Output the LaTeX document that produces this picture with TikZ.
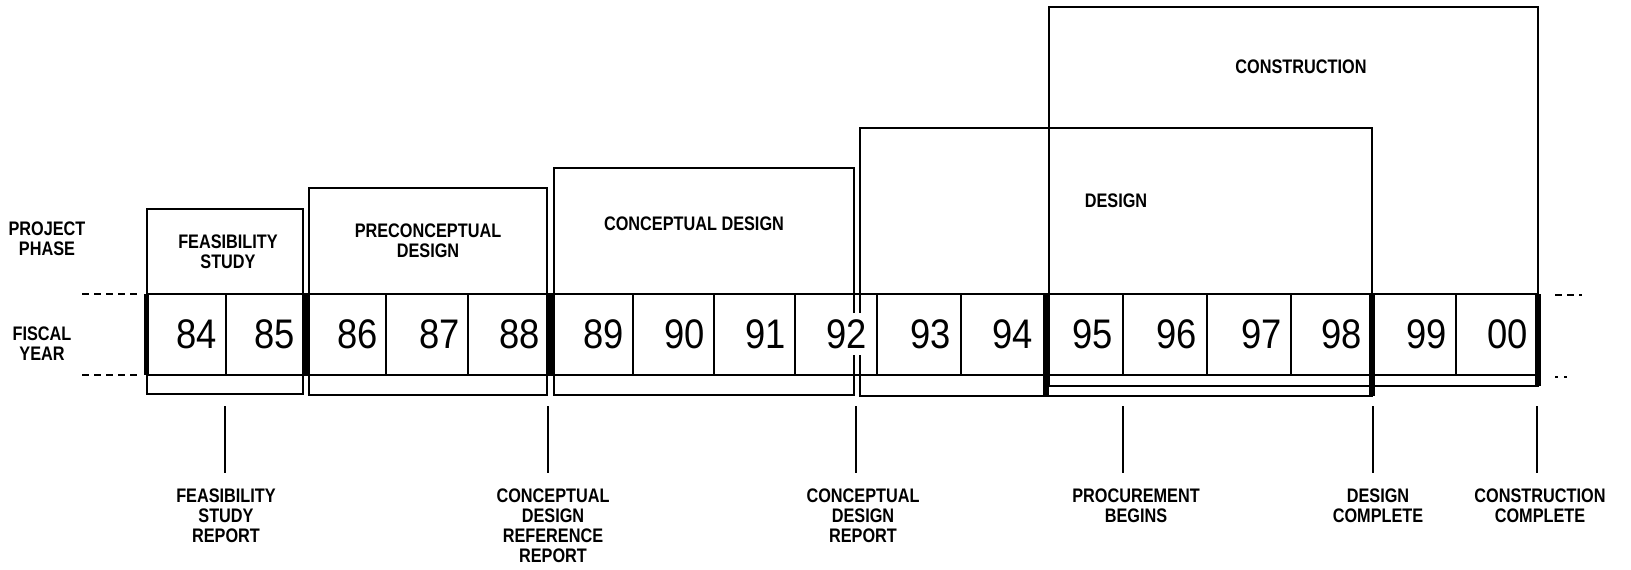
\documentclass[tikz,border=0pt]{standalone}
\usepackage{fontspec}
\setmainfont{Liberation Sans}
\newfontfamily\yearfont[FakeStretch=0.88]{Liberation Sans}
\newfontfamily\capfont[FakeStretch=0.83]{Liberation Sans}

\tikzset{every picture/.style={line width=0.75pt}}
\tikzset{
  phasebox/.style={line width=1.6pt},
  cellline/.style={line width=1.1pt},
  yearbar/.style={fill=black, draw=none},
  guideline/.style={line width=1.1pt, dash pattern=on 5pt off 4pt},
  milestone/.style={line width=1.6pt, shorten >=10.5pt},
  yearnum/.style={anchor=east, inner sep=0.75pt, font=\yearfont\fontsize{31}{31}\selectfont},
  caplabel/.style={align=center, inner sep=0.75pt, font=\capfont\bfseries\fontsize{14.7}{15}\selectfont},
}

\begin{document}
\begin{tikzpicture}[x=0.75pt,y=0.75pt,yscale=-1]
\useasboundingbox (0,0) rectangle (1631,570);

%Shape: Rectangle [feasibility study]
\draw [phasebox] (147,209) rectangle (303,394) ;
%Shape: Rectangle [preconceptual design]
\draw [phasebox] (309,188) rectangle (547,395) ;
%Shape: Rectangle [conceptual design], open round the 92
\draw [phasebox] (854,313) -- (854,168) -- (554,168) -- (554,395) -- (854,395) -- (854,355) ;
%Shape: Rectangle [design], open round the 92
\draw [phasebox] (860,313) -- (860,128) -- (1372,128) -- (1372,396) -- (860,396) -- (860,355) ;
%Shape: Rectangle [construction]
\draw [phasebox] (1049,7) rectangle (1538,386) ;

%Straight Lines [fiscal year row]
\draw [cellline] (147,294) -- (1538,294) ;
\draw [cellline] (147,375) -- (1538,375) ;
%Straight Lines [guides, left and right]
\draw [guideline] (82,294) -- (140,294) ;
\draw [guideline] (82,375) -- (140,375) ;
\draw [guideline] (1555,295) -- (1582,295) ;
\draw [guideline, dash pattern=on 2pt off 5pt] (1555,377) -- (1570,377) ;

%Straight Lines [year dividers]
\draw [phasebox] (226,294) -- (226,375) ;
\draw [phasebox] (386,294) -- (386,375) ;
\draw [phasebox] (468,294) -- (468,375) ;
\draw [phasebox] (633,294) -- (633,375) ;
\draw [phasebox] (714,294) -- (714,375) ;
\draw [phasebox] (795,294) -- (795,375) ;
\draw [phasebox] (877,294) -- (877,375) ;
\draw [phasebox] (961,294) -- (961,375) ;
\draw [phasebox] (1123,294) -- (1123,375) ;
\draw [phasebox] (1207,294) -- (1207,375) ;
\draw [phasebox] (1291,294) -- (1291,375) ;
\draw [phasebox] (1456,294) -- (1456,375) ;

%Shape: Rectangle [phase bars]
\fill [yearbar] (144,294) rectangle (149,375) ;
\fill [yearbar] (303,294) rectangle (310,375) ;
\fill [yearbar] (547,294) rectangle (555,375) ;
\fill [yearbar] (1043,294) rectangle (1049,396) ;
\fill [yearbar] (1369,294) rectangle (1375,396) ;
\fill [yearbar] (1535,294) rectangle (1541,386) ;

% Text Node
\node [yearnum] (y84) at (218,334) {84};
\node [yearnum] (y85) at (296,334) {85};
\node [yearnum] (y86) at (379,334) {86};
\node [yearnum] (y87) at (461,334) {87};
\node [yearnum] (y88) at (541,334) {88};
\node [yearnum] (y89) at (625,334) {89};
\node [yearnum] (y90) at (706,334) {90};
\node [yearnum] (y91) at (787,334) {91};
\node [yearnum] (y92) at (868,334) {92};
\node [yearnum] (y93) at (952,334) {93};
\node [yearnum] (y94) at (1034,334) {94};
\node [yearnum] (y95) at (1114,334) {95};
\node [yearnum] (y96) at (1198,334) {96};
\node [yearnum] (y97) at (1283,334) {97};
\node [yearnum] (y98) at (1363,334) {98};
\node [yearnum] (y99) at (1448,334) {99};
\node [yearnum] (y00) at (1529,334) {00};

% Text Node
\node [caplabel] (projphase) at (47,239) {PROJECT\\PHASE};
% Text Node
\node [caplabel] (fiscalyear) at (42,344) {FISCAL\\YEAR};
% Text Node
\node [caplabel] (feasstudy) at (228,252) {FEASIBILITY\\STUDY};
% Text Node
\node [caplabel] (precondesign) at (428,241) {PRECONCEPTUAL\\DESIGN};
% Text Node
\node [caplabel] (condesign) at (694,224) {CONCEPTUAL DESIGN};
% Text Node
\node [caplabel] (design) at (1116,201) {DESIGN};
% Text Node
\node [caplabel] (construction) at (1301,67) {CONSTRUCTION};

%Milestones
\coordinate (tfsr) at (225,406);
\coordinate (tcdrr) at (548,406);
\coordinate (tcdr) at (856,406);
\coordinate (tproc) at (1123,406);
\coordinate (tdc) at (1373,406);
\coordinate (tcc) at (1537,406);

% Text Node
\node [caplabel, anchor=north] (fsr) at (226,487) {FEASIBILITY\\STUDY\\REPORT};
% Text Node
\node [caplabel, anchor=north] (cdrr) at (553,487) {CONCEPTUAL\\DESIGN\\REFERENCE\\REPORT};
% Text Node
\node [caplabel, anchor=north] (cdr) at (863,487) {CONCEPTUAL\\DESIGN\\REPORT};
% Text Node
\node [caplabel, anchor=north] (proc) at (1136,487) {PROCUREMENT\\BEGINS};
% Text Node
\node [caplabel, anchor=north] (dc) at (1378,487) {DESIGN\\COMPLETE};
% Text Node
\node [caplabel, anchor=north] (cc) at (1540,487) {CONSTRUCTION\\COMPLETE};

%Straight Lines [milestone ticks]
\draw [milestone] (tfsr) -- (tfsr |- fsr.north) ;
\draw [milestone] (tcdrr) -- (tcdrr |- cdrr.north) ;
\draw [milestone] (tcdr) -- (tcdr |- cdr.north) ;
\draw [milestone] (tproc) -- (tproc |- proc.north) ;
\draw [milestone] (tdc) -- (tdc |- dc.north) ;
\draw [milestone] (tcc) -- (tcc |- cc.north) ;

\end{tikzpicture}
\end{document}
